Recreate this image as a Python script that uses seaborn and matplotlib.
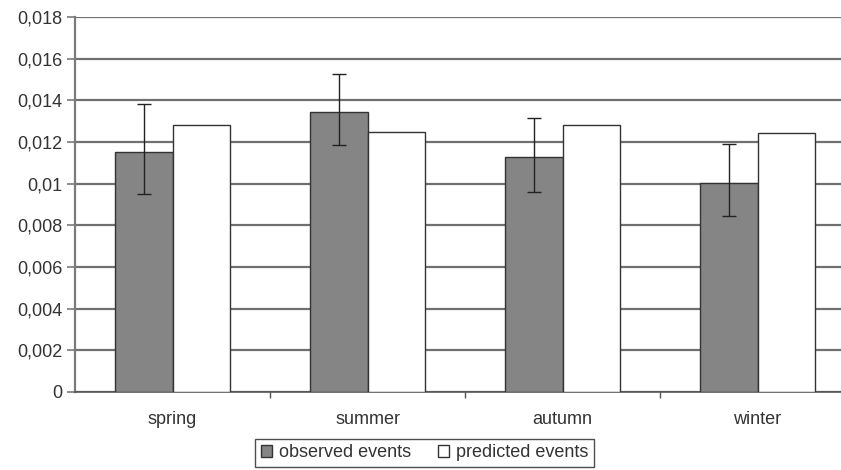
import numpy as np
import pandas as pd
import matplotlib
matplotlib.use("Agg")
import matplotlib.pyplot as plt
from matplotlib.patches import Patch
from matplotlib.ticker import FuncFormatter, MultipleLocator, FixedLocator
import seaborn as sns

# data
seasons = ["spring", "summer", "autumn", "winter"]
observed = [0.01152, 0.01345, 0.0113, 0.01005]
predicted = [0.01282, 0.0125, 0.01282, 0.01245]
err_low = [0.0095, 0.01186, 0.00958, 0.00846]
err_high = [0.01382, 0.01526, 0.01317, 0.0119]
series = ["observed events", "predicted events"]

sns.set_style("white")
plt.rcParams['font.family'] = ['Liberation Sans', 'DejaVu Sans']
txt = "#333333"
fs = 13

df = pd.DataFrame({
    "season": seasons * 2,
    "value": observed + predicted,
    "series": [series[0]] * 4 + [series[1]] * 4,
})

fig = plt.figure(figsize=(8.41, 4.70), dpi=100)
ax = fig.add_axes([75 / 841, 1 - 392 / 470, 1 - 75 / 841, (392 - 17) / 470])

sns.barplot(data=df, x="season", y="value", hue="series", order=seasons,
            hue_order=series, palette=["#858585", "white"], width=0.585,
            edgecolor="#333333", linewidth=1.0, errorbar=None, legend=False,
            ax=ax, zorder=3)

# asymmetric error bars on the observed bars
obs_bars = ax.patches[:4]
xs = [p.get_x() + p.get_width() / 2 for p in obs_bars]
obs = np.array(observed)
yerr = [obs - np.array(err_low), np.array(err_high) - obs]
ax.errorbar(xs, obs, yerr=yerr, fmt="none", ecolor="#222222",
            elinewidth=1.0, capsize=5, capthick=1.0, zorder=4)

ax.set_ylim(0, 0.018)
ax.set_xlim(-0.5, 3.428)
ax.yaxis.set_major_locator(MultipleLocator(0.002))
ax.yaxis.set_major_formatter(FuncFormatter(
    lambda v, p: "0" if abs(v) < 1e-12 else f"{v:.3f}".rstrip("0").replace(".", ",")))
ax.grid(axis="y", color="#707070", linewidth=1.6, zorder=0)
ax.set_axisbelow(True)

for s in ["top", "right"]:
    ax.spines[s].set_visible(False)
ax.spines["left"].set_color("#7a7a7a")
ax.spines["left"].set_linewidth(1.6)
ax.spines["bottom"].set_color("#555555")
ax.spines["bottom"].set_linewidth(1.2)

ax.set_xlabel("")
ax.set_ylabel("")
ax.tick_params(axis="y", left=True, length=6, width=1.2, color="#7a7a7a",
               labelsize=fs, labelcolor=txt, pad=3)
ax.tick_params(axis="x", bottom=False, labelsize=fs, labelcolor=txt, pad=10)
ax.xaxis.set_minor_locator(FixedLocator([0.5, 1.5, 2.5]))
ax.tick_params(axis="x", which="minor", bottom=True, length=4, width=1.0,
               color="#555555")

handles = [Patch(facecolor="#858585", edgecolor="#333333", label=series[0]),
           Patch(facecolor="white", edgecolor="#333333", label=series[1])]
leg = fig.legend(handles=handles, loc="lower center", ncol=2,
                 bbox_to_anchor=(0.505, -0.012), frameon=True, fancybox=False,
                 handlelength=0.6, handleheight=0.6, handletextpad=0.4,
                 columnspacing=1.5, borderpad=0.3, borderaxespad=0.5,
                 fontsize=fs, labelcolor=txt)
leg.get_frame().set_edgecolor("#222222")
leg.get_frame().set_linewidth(1.0)

fig.savefig("out.png", dpi=100, facecolor="white")
